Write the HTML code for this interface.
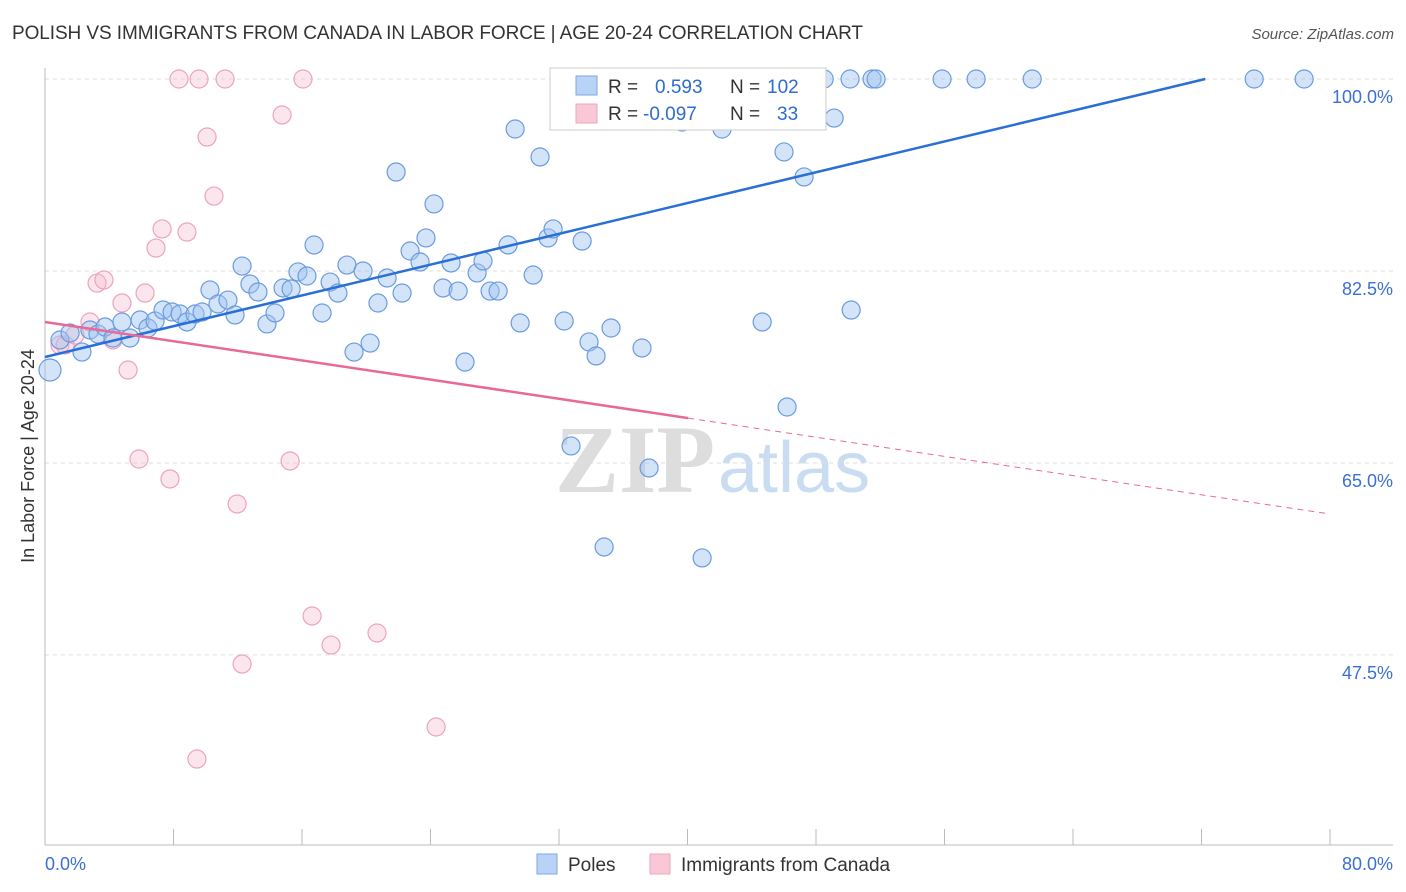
<!DOCTYPE html>
<html><head><meta charset="utf-8"><style>
body{margin:0;background:#fff;font-family:"Liberation Sans",sans-serif;}
#wrap{position:relative;width:1406px;height:892px;overflow:hidden;}
</style></head><body>
<div id="wrap">
<svg id="svg" width="1406" height="892" xmlns="http://www.w3.org/2000/svg">
<text x="12" y="39" font-size="19" textLength="851" fill="#333">POLISH VS IMMIGRANTS FROM CANADA IN LABOR FORCE | AGE 20-24 CORRELATION CHART</text>
<text x="1394" y="39" font-size="15" fill="#555" font-style="italic" text-anchor="end">Source: ZipAtlas.com</text>
<g>
<text x="555" y="492" font-size="96" font-family="Liberation Serif,serif" fill="#ddd" font-weight="bold">ZIP</text>
<text x="718" y="492" font-size="72" fill="#c9dcf2">atlas</text>
</g>
<g id="grid"></g>
<g id="axes"></g>
<g id="pts"></g>
<g id="lines"></g>
<text transform="translate(34,456) rotate(-90)" font-size="18" fill="#333" text-anchor="middle">In Labor Force | Age 20-24</text>
<g>
<rect x="550" y="68" width="276" height="62" fill="#fff" stroke="#ccc"/>
<rect x="576" y="76" width="21" height="19" fill="#b8d3f5" stroke="#7aa8e6"/>
<rect x="576" y="104" width="21" height="19" fill="#f9c8d6" stroke="#eda6bd"/>
<text x="608" y="93" font-size="19" fill="#333">R = <tspan x="655" fill="#2f6bd0">0.593</tspan><tspan x="730" fill="#333">N =</tspan><tspan x="767" fill="#2f6bd0">102</tspan></text>
<text x="608" y="120" font-size="19" fill="#333">R = <tspan x="643" fill="#2f6bd0">-0.097</tspan><tspan x="730" fill="#333">N =</tspan><tspan x="777" fill="#2f6bd0">33</tspan></text>
</g>
<g>
<rect x="537" y="854" width="20" height="20" fill="#b8d3f5" stroke="#7aa8e6"/>
<text x="568" y="871" font-size="19" fill="#333">Poles</text>
<rect x="650" y="854" width="20" height="20" fill="#f9c8d6" stroke="#eda6bd"/>
<text x="681" y="871" font-size="19" fill="#333">Immigrants from Canada</text>
</g>
</svg>
</div>
<script>
const yTicks=[100,82.5,65,47.5];
const yTickLabels=["100.0%","82.5%","65.0%","47.5%"];
const xTickVals=[0,8,16,24,32,40,48,56,64,72,80];
const blueX=[0.31,2.30,0.93,1.56,2.80,3.30,3.74,4.23,4.79,5.29,5.92,6.41,6.85,7.35,7.91,8.41,8.84,9.34,9.78,10.27,10.77,11.39,11.83,12.27,12.76,13.26,13.82,14.32,14.82,15.32,15.75,16.31,16.75,17.25,17.75,18.24,18.80,19.24,19.80,20.24,20.73,21.30,21.86,22.23,22.73,23.35,23.72,24.22,24.78,25.28,25.72,26.15,26.90,27.27,27.71,28.21,28.83,29.27,29.58,30.39,30.82,31.32,31.63,32.32,32.75,33.44,33.87,34.31,34.81,35.24,37.17,37.61,39.66,40.91,42.15,44.65,46.01,46.20,47.26,49.13,50.19,33.31,34.56,35.80,36.11,36.55,38.29,40.10,40.78,43.28,45.27,48.51,50.12,51.49,51.74,55.85,57.97,61.46,75.28,78.39];
const blueY=[73.47,75.11,76.21,76.85,77.12,76.75,77.39,76.39,77.85,76.39,78.03,77.30,77.94,78.94,78.76,78.58,77.85,78.58,78.76,80.77,79.49,79.85,78.49,82.95,81.31,80.58,77.67,78.67,80.95,80.86,82.41,82.04,84.87,78.67,81.49,80.49,83.04,75.11,82.50,75.93,79.58,81.86,91.52,80.49,84.32,83.32,85.51,88.61,80.95,83.23,80.67,74.20,82.32,83.41,80.67,80.67,84.87,95.44,77.76,82.13,92.89,85.51,86.33,77.94,66.55,85.23,76.03,74.75,57.34,77.30,75.48,64.54,96.08,56.34,95.44,77.85,93.35,70.10,91.07,96.44,78.94,100,100,100,100,100,100,100,100,100,100,100,100,100,100,100,100,100,100,100];
const pinkX=[0.93,1.25,1.87,2.80,3.24,3.67,4.23,4.79,5.17,5.85,6.23,6.91,7.29,7.78,8.84,8.34,9.59,10.09,10.52,11.21,11.96,12.27,14.76,15.26,16.06,16.63,17.81,20.67,24.35,9.46,40.04];
const pinkY=[75.75,75.75,76.66,77.85,81.40,81.68,76.21,79.58,73.47,65.36,80.49,84.59,86.33,63.54,86.05,100,100,94.71,89.33,100,61.26,46.67,96.72,65.18,100,51.05,48.40,49.50,40.93,38.01,100];
const blueTrend=[74.66,0.3508];
const pinkTrend=[77.85,-0.2188];
const NS="http://www.w3.org/2000/svg";
const X0=45,X1=1330,Y100=79,PPY=10.97;
function sx(v){return X0+(v/80)*(X1-X0);}
function sy(v){return Y100+(100-v)*PPY;}
function mk(tag,attrs,parent){const e=document.createElementNS(NS,tag);for(const k in attrs)e.setAttribute(k,attrs[k]);document.getElementById(parent).appendChild(e);return e;}
yTicks.forEach((t,i)=>{
  const l=mk('line',{x1:X0,x2:1393,y1:sy(t),y2:sy(t),stroke:'#ddd','stroke-dasharray':'4,4'},'grid');
  
  
  const tx=mk('text',{x:1393,y:sy(t)+24,'font-size':18,fill:'#3b6fd4','text-anchor':'end'},'grid');
  tx.textContent=yTickLabels[i];
  
  
});
const ax=mk('line',{x1:X0,x2:X0,y1:68,y2:845,stroke:'#bbb'},'axes');


const bx=mk('line',{x1:X0,x2:1393,y1:845,y2:845,stroke:'#bbb'},'axes');


xTickVals.forEach(v=>{
  const t=mk('line',{x1:sx(v),x2:sx(v),y1:829,y2:845,stroke:'#bbb'},'axes');
  
  
});
const xl0=mk('text',{x:45,y:870,'font-size':18,fill:'#3b6fd4'},'axes');xl0.textContent='0.0%';


const xl1=mk('text',{x:1393,y:870,'font-size':18,fill:'#3b6fd4','text-anchor':'end'},'axes');xl1.textContent='80.0%';


pinkX.forEach((v,i)=>{
  const c=mk('circle',{cx:sx(v),cy:sy(pinkY[i]),r:9,fill:'rgba(246,182,202,0.35)',stroke:'#eba4bc','stroke-width':1.2},'pts');
  
  
});
blueX.forEach((v,i)=>{
  const c=mk('circle',{cx:sx(v),cy:sy(blueY[i]),r:i==0?11:9,fill:'rgba(160,196,240,0.45)',stroke:'#6a9be0','stroke-width':1.2},'pts');
  
  
});
const bEnd=(100-blueTrend[0])/blueTrend[1];
const bl=mk('line',{x1:sx(0),y1:sy(blueTrend[0]),x2:sx(bEnd),y2:sy(100),stroke:'#2a6fd6','stroke-width':2.5},'lines');


const pMid=40.04;
const pl=mk('line',{x1:sx(0),y1:sy(pinkTrend[0]),x2:sx(pMid),y2:sy(pinkTrend[0]+pinkTrend[1]*pMid),stroke:'#e86a94','stroke-width':2.5},'lines');


const pd=mk('line',{x1:sx(pMid),y1:sy(pinkTrend[0]+pinkTrend[1]*pMid),x2:sx(80),y2:sy(pinkTrend[0]+pinkTrend[1]*80),stroke:'#e86a94','stroke-width':1,'stroke-dasharray':'6,5'},'lines');


</script>
</body></html>
